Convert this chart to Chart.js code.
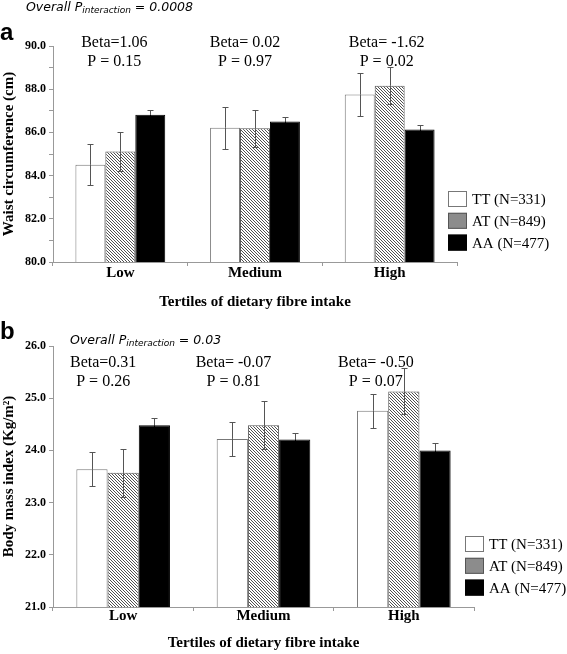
<!DOCTYPE html>
<html>
<head>
<meta charset="utf-8">
<script src="https://cdn.jsdelivr.net/npm/chart.js@4.4.0/dist/chart.umd.min.js"></script>
<style>
  html, body { margin: 0; padding: 0; background: #fff; }
  #wrap { position: relative; width: 567px; height: 654px; }
  canvas { position: absolute; left: 0; }
</style>
</head>
<body>
<div id="wrap">
  <canvas id="chartA" width="567" height="320" style="top:0"></canvas>
  <canvas id="chartB" width="567" height="334" style="top:320px"></canvas>
</div>
<script>
/* dados */
const tertiles = ["Low", "Medium", "High"];
const genotypes = ["TT (N=331)", "AT (N=849)", "AA (N=477)"];

// painel a - circunferência da cintura (cm)
const waistTT = [84.50, 86.22, 87.76];
const waistAT = [85.12, 86.19, 88.16];
const waistAA = [86.82, 86.51, 86.14];
const waistErrTT = [0.95, 0.97, 0.98];
const waistErrAT = [0.90, 0.85, 0.85];
const waistErrAA = [0.20, 0.18, 0.20];
const waistBeta = ["Beta=1.06", "Beta= 0.02", "Beta= -1.62"];
const waistP = ["P = 0.15", "P = 0.97", "P = 0.02"];

// painel b - IMC (kg/m2)
const bmiTT = [23.64, 24.22, 24.76];
const bmiAT = [23.57, 24.48, 25.13];
const bmiAA = [24.48, 24.21, 24.00];
const bmiErrTT = [0.32, 0.33, 0.33];
const bmiErrAT = [0.46, 0.46, 0.44];
const bmiErrAA = [0.14, 0.13, 0.15];
const bmiBeta = ["Beta=0.31", "Beta= -0.07", "Beta= -0.50"];
const bmiP = ["P = 0.26", "P = 0.81", "P = 0.07"];

const serif = "'Liberation Serif', 'Times New Roman', serif";
const sans = "'DejaVu Sans', Verdana, sans-serif";

/* -------------------------------------------------------------------------- */
function hatch(ctx) { // padrão listrado do AT
  const c = document.createElement("canvas");
  c.width = 3; c.height = 3;
  const g = c.getContext("2d");
  g.fillStyle = "#fff";
  g.fillRect(0, 0, 3, 3);
  g.strokeStyle = "#3c3c3c";
  g.lineWidth = 0.9;
  g.beginPath();
  g.moveTo(-1, -1); g.lineTo(4, 4);
  g.moveTo(-1, 2); g.lineTo(1, 4);
  g.moveTo(2, -1); g.lineTo(4, 1);
  g.stroke();
  return ctx.createPattern(c, "repeat");
}

/* -------------------------------------------------------------------------- */
const errorBars = { // barras de erro
  id: "errorBars",
  afterDatasetsDraw(chart, args, opts) {
    const ctx = chart.ctx, y = chart.scales.y;
    chart.data.datasets.forEach((ds, di) => {
      chart.getDatasetMeta(di).data.forEach((bar, i) => {
        const v = ds.data[i], e = opts.errors[di][i];
        const x = Math.round(bar.x) + 0.5;
        const top = Math.round(y.getPixelForValue(v + e)) + 0.5;
        const mid = y.getPixelForValue(v);
        const bot = Math.round(y.getPixelForValue(v - e)) + 0.5;
        ctx.save();
        ctx.lineWidth = 1;
        ctx.strokeStyle = "#555";
        ctx.beginPath();
        ctx.moveTo(x, top); ctx.lineTo(x, mid);
        ctx.moveTo(x - 3, top); ctx.lineTo(x + 3, top);
        ctx.stroke();
        ctx.strokeStyle = opts.lower[di];
        ctx.beginPath();
        ctx.moveTo(x, mid); ctx.lineTo(x, bot);
        ctx.moveTo(x - 3, bot); ctx.lineTo(x + 3, bot);
        ctx.stroke();
        ctx.restore();
      });
    });
  }
};

const notes = { // textos, letra do painel e legenda
  id: "notes",
  afterDraw(chart, args, o) {
    const ctx = chart.ctx, xs = chart.scales.x, area = chart.chartArea;
    ctx.save();
    ctx.fillStyle = "#000";
    ctx.textBaseline = "middle";

    // Beta / P
    ctx.font = "16px " + serif;
    ctx.textAlign = "center";
    tertiles.forEach((t, i) => {
      const cx = xs.getPixelForValue(i) + o.shift[i];
      ctx.fillText(o.beta[i], cx, area.top + o.betaY);
      ctx.fillText(o.p[i], cx, area.top + o.pY);
    });

    // letra
    ctx.textAlign = "left";
    ctx.font = "bold 24px 'Liberation Sans', Arial, sans-serif";
    ctx.fillText(o.letter, 0, o.letterY);

    // Overall P interaction
    let x = o.pintX;
    ctx.font = "italic 12.5px " + sans;
    ctx.fillText("Overall P", x, o.pintY);
    x += ctx.measureText("Overall P").width;
    ctx.font = "italic 9px " + sans;
    ctx.fillText("interaction", x, o.pintY + 3);
    x += ctx.measureText("interaction").width;
    ctx.font = "italic 12.5px " + sans;
    ctx.fillText(" = " + o.pint, x, o.pintY);

    // legenda
    const lx = area.right - 9, ly = area.bottom - 71;
    ctx.font = "15px " + serif;
    chart.data.datasets.forEach((ds, i) => {
      const by = ly + i * 21.8;
      ctx.fillStyle = o.legendFill[i];
      ctx.fillRect(lx, by, 19, 16);
      ctx.strokeStyle = o.legendBorder[i];
      ctx.lineWidth = 1;
      ctx.strokeRect(lx + 0.5, by + 0.5, 18, 15);
      ctx.fillStyle = "#000";
      ctx.fillText(ds.label, lx + 24, by + 9);
    });
    ctx.restore();
  }
};

/* -------------------------------------------------------------------------- */
function makeChart(id, series, errs, yMin, yMax, yTitle, yEvery, note, pad, xHeight, xPad) {
  const canvas = document.getElementById(id);
  const ctx = canvas.getContext("2d");
  const fills = ["#fff", hatch(ctx), "#000"];
  const borders = ["#777", "#555", "#000"];
  return new Chart(canvas, {
    type: "bar",
    data: {
      labels: tertiles,
      datasets: genotypes.map((g, i) => ({
        label: g,
        data: series[i],
        backgroundColor: fills[i],
        borderColor: borders[i],
        borderWidth: 1,
        categoryPercentage: 0.667,
        barPercentage: 1.0
      }))
    },
    options: {
      responsive: false,
      animation: false,
      layout: { padding: pad },
      plugins: {
        legend: { display: false },
        tooltip: { enabled: false },
        errorBars: { errors: errs, lower: ["#555", "#555", "#000"] },
        notes: note
      },
      scales: {
        x: {
          afterFit(scale) { scale.height = xHeight; },
          grid: { drawOnChartArea: false, tickLength: 4, color: "#999" },
          border: { color: "#999" },
          ticks: { color: "#000", padding: xPad, font: { family: serif, size: 15, weight: "bold", lineHeight: 1 } },
          title: {
            display: true, text: "Tertiles of dietary fibre intake", color: "#000",
            padding: 0, font: { family: serif, size: 15, weight: "bold" }
          }
        },
        y: {
          min: yMin, max: yMax,
          afterFit(scale) { scale.width = 53; },
          grid: { drawOnChartArea: false, tickLength: 4, color: "#999" },
          border: { color: "#999" },
          ticks: {
            stepSize: 1, color: "#000", padding: 3,
            font: { family: serif, size: 12, weight: "bold" },
            callback: v => (Math.round(v - yMin) % yEvery === 0 ? v.toFixed(1) : "")
          },
          title: {
            display: true, text: yTitle, color: "#000",
            padding: 0, font: { family: serif, size: 15, weight: "bold" }
          }
        }
      }
    },
    plugins: [errorBars, notes]
  });
}

makeChart("chartA",
  [waistTT, waistAT, waistAA], [waistErrTT, waistErrAT, waistErrAA],
  80, 90, "Waist circumference (cm)", 2,
  {
    beta: waistBeta, p: waistP, shift: [-6, -10, -3], betaY: -3, pY: 16,
    letter: "a", letterY: 33, pint: "0.0008", pintX: 26, pintY: 8,
    legendFill: ["#fff", "#8c8c8c", "#000"], legendBorder: ["#777", "#555", "#000"]
  },
  { top: 46, right: 110, bottom: 9, left: 0 }, 49, 0);

makeChart("chartB",
  [bmiTT, bmiAT, bmiAA], [bmiErrTT, bmiErrAT, bmiErrAA],
  21, 26, "Body mass index (Kg/m²)", 1,
  {
    beta: bmiBeta, p: bmiP, shift: [-20, -30, -28], betaY: 17, pY: 36,
    letter: "b", letterY: 12, pint: "0.03", pintX: 70, pintY: 21,
    legendFill: ["#fff", "#8c8c8c", "#000"], legendBorder: ["#777", "#555", "#000"]
  },
  { top: 26, right: 93, bottom: 2, left: 0 }, 45, -2);
</script>
</body>
</html>
